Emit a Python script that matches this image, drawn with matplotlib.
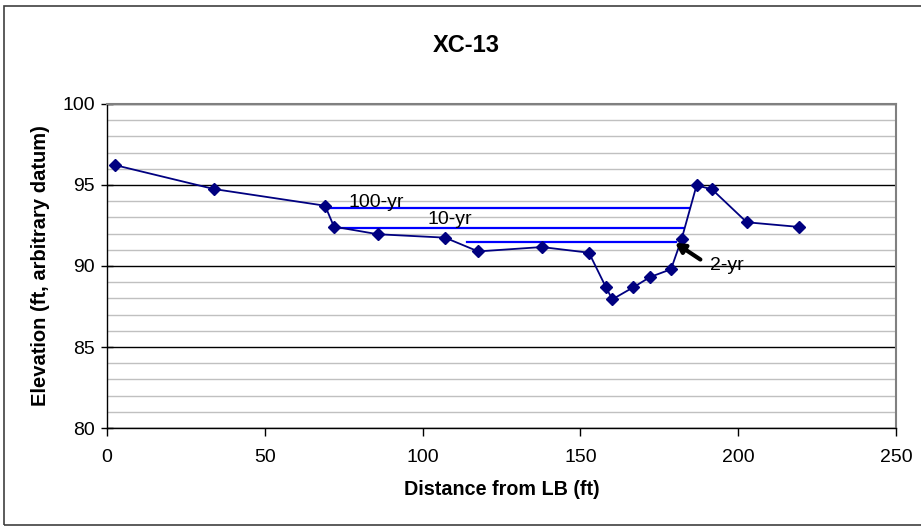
import matplotlib
matplotlib.use("Agg")
import matplotlib.pyplot as plt
from matplotlib.patches import Rectangle
from matplotlib.ticker import MultipleLocator

plt.rcParams['font.family'] = ['Liberation Sans', 'DejaVu Sans']

# Surveyed cross-section (station, elevation)
station = [2.5, 33.9, 69.1, 71.9, 85.8, 107.1, 117.6, 137.8, 152.7, 158.1,
           160.1, 166.7, 172.1, 178.7, 182.1, 186.8, 191.7, 202.7, 219.3]
elevation = [96.23, 94.75, 93.72, 92.43, 91.96, 91.75, 90.90, 91.17, 90.82, 88.68,
             87.94, 88.68, 89.32, 89.80, 91.69, 94.98, 94.73, 92.70, 92.41]

# Water surface elevations for return periods
ws_labels = ['100-yr', '10-yr', '2-yr']
ws_elev = [93.60, 92.35, 91.46]
ws_start = [69.1, 73.0, 114.0]
ws_end = [184.5, 182.4, 180.3]

fig = plt.figure(figsize=(9.21, 5.26), dpi=100)
ax = fig.add_axes([0.1162, 0.1863, 0.8567, 0.616])

# water surface lines
for e, s, t in zip(ws_elev, ws_start, ws_end):
    ax.plot([s, t], [e, e], color='#0000FF', lw=1.6, zorder=3)

ax.plot(station, elevation, color='#000080', lw=1.3, marker='D',
        markersize=6, markerfacecolor='#000080', markeredgecolor='#000080', zorder=4)

ax.set_xlim(0, 250)
ax.set_ylim(80, 100)
ax.xaxis.set_major_locator(MultipleLocator(50))
ax.yaxis.set_major_locator(MultipleLocator(5))
ax.yaxis.set_minor_locator(MultipleLocator(1))

ax.grid(which='minor', axis='y', color='#c0c0c0', lw=1.0, zorder=0)
ax.grid(which='major', axis='y', color='black', lw=1.0, zorder=1)
ax.set_axisbelow(True)

ax.tick_params(axis='y', which='major', direction='inout', length=9, width=1,
               labelsize=14, pad=4)
ax.tick_params(axis='y', which='minor', length=0)
ax.tick_params(axis='x', which='major', direction='out', length=6, width=1,
               labelsize=14, pad=9)

for side in ['top', 'right']:
    ax.spines[side].set_color('#808080')
    ax.spines[side].set_linewidth(1.5)
for side in ['left', 'bottom']:
    ax.spines[side].set_color('black')
    ax.spines[side].set_linewidth(1.0)

ax.set_xlabel('Distance from LB (ft)', fontsize=14.2, fontweight='bold', labelpad=10)
ax.set_ylabel('Elevation (ft, arbitrary datum)', fontsize=14.5, fontweight='bold', labelpad=9)
fig.text(0.506, 0.914, 'XC-13', ha='center', va='center', fontsize=17, fontweight='bold')

# labels for water surfaces
ax.text(76.5, 93.95, ws_labels[0], fontsize=14, ha='left', va='center', zorder=5)
ax.text(101.5, 92.9, ws_labels[1], fontsize=14, ha='left', va='center', zorder=5)
ax.text(191.0, 90.05, ws_labels[2], fontsize=14, ha='left', va='center', zorder=5)
ax.annotate('', xy=(180.0, 91.43), xytext=(188.0, 90.4),
            arrowprops=dict(arrowstyle='-|>,head_length=0.55,head_width=0.3',
                            color='black', lw=3, shrinkA=0, shrinkB=0),
            zorder=5)

# outer chart border
fig.patches.append(Rectangle((4 / 921, 1 / 526), 1.2, 519 / 526, transform=fig.transFigure,
                             fill=False, edgecolor='#404040', lw=1.2))

fig.savefig('out.png', dpi=100)
